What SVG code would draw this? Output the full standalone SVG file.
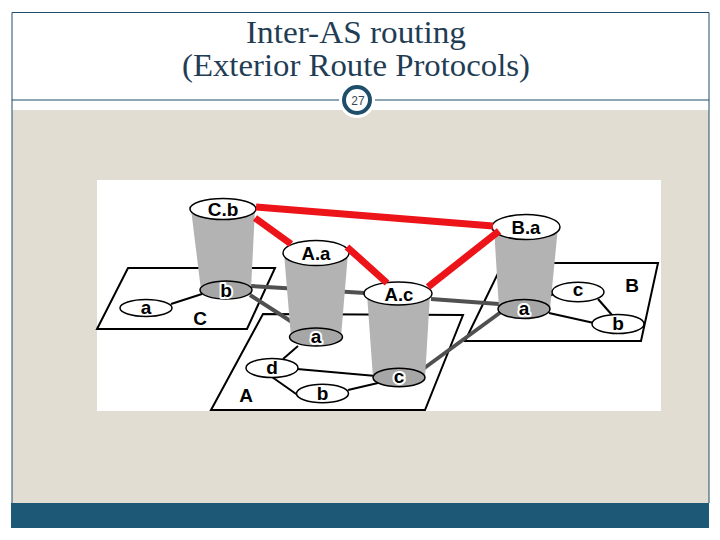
<svg xmlns="http://www.w3.org/2000/svg" width="720" height="540" viewBox="0 0 720 540">
<style>
.title{font-family:"Liberation Serif","DejaVu Serif",serif;font-size:31px;fill:#1f3d54;text-anchor:middle}
.plane{fill:#ffffff;stroke:#000;stroke-width:2;stroke-linejoin:miter}
.cyl{fill:#b3b3b3;stroke:none}
.top{fill:#ffffff;stroke:#000;stroke-width:1.5}
.base{fill:#a6a6a6;stroke:#000;stroke-width:1.5}
.host{fill:#ffffff;stroke:#000;stroke-width:1.5}
.lbl{font-family:"Liberation Sans",Arial,sans-serif;font-weight:bold;font-size:19px;fill:#000;text-anchor:middle}
.big{font-size:18.5px}
.halo{stroke:#fff;stroke-width:4;paint-order:stroke;stroke-linejoin:round}
.red{stroke:#ec1419;stroke-width:7;fill:none}
.gray{stroke:#505050;stroke-width:4;fill:none}
.blk{stroke:#000;stroke-width:2;fill:none}
</style>
<rect x="0" y="0" width="720" height="540" fill="#ffffff"/>
<g id="slide-frame">
<rect x="12" y="110" width="697" height="393" fill="#e2ddd3"/>
<rect x="11" y="503" width="698" height="25" fill="#1e5877"/>
<path d="M12 503 V12.5 H709 V503" fill="none" stroke="#1f4e6b" stroke-width="1"/>
<line x1="12" y1="100" x2="709" y2="100" stroke="#1f4e6b" stroke-width="1"/>
</g>
<g id="title">
<text class="title" x="356" y="43" textLength="220" lengthAdjust="spacingAndGlyphs">Inter-AS routing</text>
<text class="title" x="356" y="76" textLength="348" lengthAdjust="spacingAndGlyphs">(Exterior Route Protocols)</text>
</g>
<g id="page-number">
<circle cx="357" cy="100" r="18" fill="#ffffff"/>
<circle cx="357" cy="100" r="13" fill="#ffffff" stroke="#1f4e6b" stroke-width="4"/>
<text x="358" y="104.5" font-family="Liberation Sans,Arial,sans-serif" font-size="12" fill="#3a4a55" text-anchor="middle">27</text>
</g>
<rect x="97" y="180" width="564" height="231" fill="#ffffff"/>
<g id="planes">
<polygon id="plane-C" class="plane" points="128,268 275,268 247,329 97,329"/>
<polygon id="plane-A" class="plane" points="263,314 463,315 425,410 211,410"/>
<polygon id="plane-B" class="plane" points="503,263 658,263 641,341 465,341"/>
</g>
<g id="connectors">
<line class="blk" x1="171" y1="304" x2="202" y2="294"/>
<line class="blk" x1="298" y1="346" x2="283" y2="359"/>
<line class="blk" x1="272" y1="377" x2="299" y2="396"/>
<line class="blk" x1="297" y1="369" x2="376" y2="376"/>
<line class="blk" x1="348" y1="390" x2="378" y2="383"/>
<line class="blk" x1="540" y1="300" x2="556" y2="293"/>
<line class="blk" x1="549" y1="313" x2="594" y2="323"/>
<line class="blk" x1="598" y1="299" x2="612" y2="315"/>
<line class="gray" x1="251" y1="286" x2="365" y2="293"/>
<line class="gray" x1="250" y1="295" x2="292" y2="322"/>
<line class="gray" x1="431" y1="299" x2="499" y2="304"/>
<line class="gray" x1="423" y1="369" x2="501" y2="312"/>
</g>
<g id="C.b">
<polygon class="cyl" points="191,209 255,209 251,290 201,290"/>
<ellipse class="top" cx="223" cy="209" rx="33" ry="10.5"/>
<text class="lbl" x="223" y="215.5" font-size="18">C.b</text>
</g>
<g id="A.a">
<polygon class="cyl" points="284,253 348,253 341,337 291,337"/>
<ellipse class="top" cx="316" cy="253" rx="33" ry="12.5"/>
<text class="lbl big" x="316" y="259.5">A.a</text>
</g>
<g id="A.c">
<polygon class="cyl" points="367,294 430,294 425,378 373,378"/>
<ellipse class="top" cx="398" cy="293.5" rx="34" ry="11.5"/>
<text class="lbl big" x="399" y="301">A.c</text>
</g>
<g id="B.a">
<polygon class="cyl" points="494,227 558,227 550,309 499,309"/>
<ellipse class="top" cx="526" cy="227" rx="34" ry="12.5"/>
<text class="lbl big" x="526" y="233.5">B.a</text>
</g>
<g id="red-links">
<line class="red" x1="256" y1="207" x2="493" y2="226"/>
<line class="red" x1="255" y1="218" x2="291" y2="244"/>
<line class="red" x1="347" y1="247" x2="387" y2="283"/>
<line class="red" x1="428" y1="287" x2="499" y2="231"/>
</g>
<g id="C-b">
<ellipse class="base" cx="226" cy="290" rx="26" ry="9"/>
<text class="lbl halo" x="226" y="297">b</text>
</g>
<g id="C-a">
<ellipse class="host" cx="146" cy="308" rx="26" ry="8.5"/>
<text class="lbl" x="146" y="314">a</text>
</g>
<g id="A-a">
<ellipse class="base" cx="316" cy="337" rx="26.5" ry="9"/>
<text class="lbl halo" x="316" y="343">a</text>
</g>
<g id="A-d">
<ellipse class="host" cx="272" cy="368" rx="26" ry="9.5"/>
<text class="lbl" x="272" y="374">d</text>
</g>
<g id="A-b">
<ellipse class="host" cx="322.5" cy="393.5" rx="26" ry="9.2"/>
<text class="lbl" x="322.5" y="400">b</text>
</g>
<g id="A-c">
<ellipse class="base" cx="399" cy="377.5" rx="26" ry="9.2"/>
<text class="lbl halo" x="399" y="383">c</text>
</g>
<g id="B-a">
<ellipse class="base" cx="524" cy="309" rx="26" ry="9.5"/>
<text class="lbl halo" x="524" y="315">a</text>
</g>
<g id="B-c">
<ellipse class="host" cx="578" cy="292" rx="26" ry="9.7"/>
<text class="lbl" x="578" y="296">c</text>
</g>
<g id="B-b">
<ellipse class="host" cx="618" cy="324" rx="26" ry="9.5"/>
<text class="lbl" x="618" y="330">b</text>
</g>
<g id="plane-labels">
<text class="lbl" x="200" y="325" font-size="17">C</text>
<text class="lbl" x="246" y="402" font-size="19">A</text>
<text class="lbl" x="632" y="292" font-size="19">B</text>
</g>
</svg>
